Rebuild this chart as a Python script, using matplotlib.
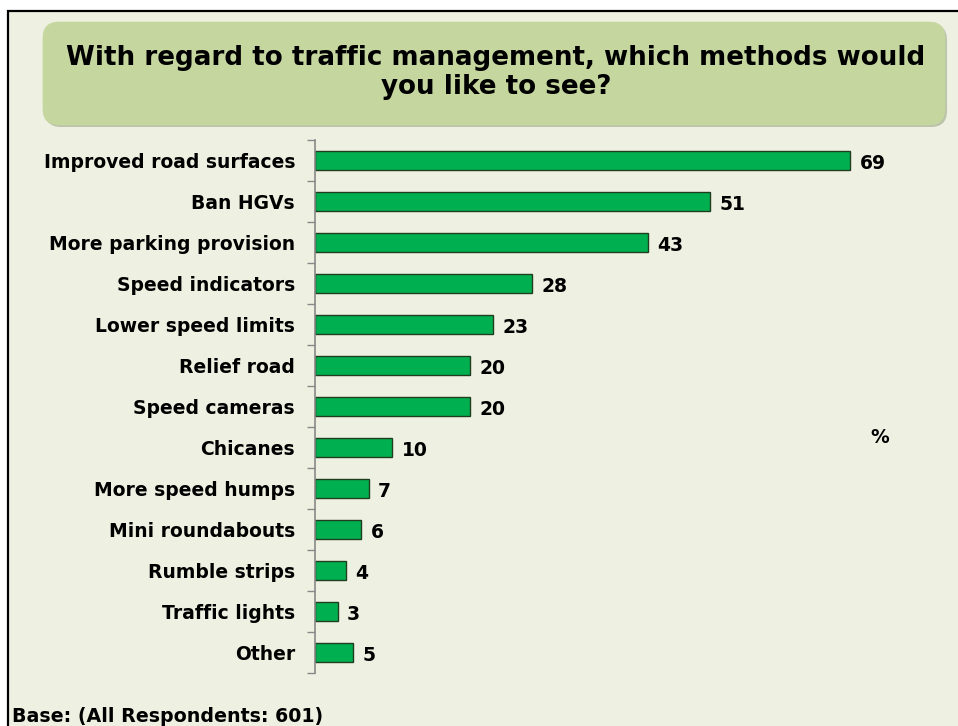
import matplotlib
matplotlib.use("Agg")
import matplotlib.pyplot as plt
from matplotlib.patches import FancyBboxPatch, Rectangle
import numpy as np

categories = ["Improved road surfaces", "Ban HGVs", "More parking provision",
              "Speed indicators", "Lower speed limits", "Relief road",
              "Speed cameras", "Chicanes", "More speed humps", "Mini roundabouts",
              "Rumble strips", "Traffic lights", "Other"]
values = [69, 51, 43, 28, 23, 20, 20, 10, 7, 6, 4, 3, 5]

title_text = "With regard to traffic management, which methods would\nyou like to see?"
base_text = "Base: (All Respondents: 601)"

W, H = 958, 726
fig = plt.figure(figsize=(W / 100, H / 100), dpi=100)
fig.patch.set_facecolor("white")

bg = "#eef1e1"
inch = fig.dpi_scale_trans

# outer frame
frame = Rectangle((0.08, -0.2), 10.0, 7.35, transform=inch,
                  facecolor=bg, edgecolor="black", linewidth=1.6, zorder=-3)
fig.patches.append(frame)

# title box shadow + box
shadow = FancyBboxPatch((0.45, 5.99), 9.02, 1.03,
                        boxstyle="round,pad=0,rounding_size=0.16",
                        transform=inch, facecolor="#9aa58a", edgecolor="none",
                        alpha=0.6, zorder=-2)
fig.patches.append(shadow)
box = FancyBboxPatch((0.43, 6.01), 9.02, 1.03,
                     boxstyle="round,pad=0,rounding_size=0.16",
                     transform=inch, facecolor="#c5d69f", edgecolor="#c5d69f",
                     linewidth=0.5, zorder=-1)
fig.patches.append(box)

fig.text(4.96, 7.26 - 0.725, title_text, transform=inch, ha="center", va="center",
         fontsize=18.8, fontweight="bold", family="DejaVu Sans", linespacing=1.15,
         zorder=3)

ax = fig.add_axes([314.5 / W, (H - 673) / H, 621 / W, 533 / H])
ax.set_zorder(5)
ax.set_facecolor("none")
y = np.arange(len(categories))
ax.barh(y, values, height=0.45, color="#00b050", edgecolor="#1f3d1f", linewidth=1.0)
ax.set_ylim(len(categories) - 0.5, -0.5)
ax.set_xlim(0, 80)

for yi, v in zip(y, values):
    ax.text(v + 1.2, yi + 0.08, str(v), ha="left", va="center",
            fontsize=13.5, fontweight="bold")

ax.set_yticks(y)
ax.set_yticklabels(categories, fontsize=13.5, fontweight="bold")
ax.tick_params(axis="y", which="major", length=0, pad=14)
ax.set_yticks(np.arange(len(categories) + 1) - 0.5, minor=True)
ax.tick_params(axis="y", which="minor", length=6, color="#888888", width=1)
ax.set_xticks([])
for s in ["top", "right", "bottom"]:
    ax.spines[s].set_visible(False)
ax.spines["left"].set_color("#888888")
ax.spines["left"].set_linewidth(1.2)

fig.text(8.80, 7.26 - 4.37, "%", transform=inch, ha="center", va="center",
         fontsize=13.5, fontweight="bold")
fig.text(0.12, 7.26 - 7.17, base_text, transform=inch, ha="left", va="center",
         fontsize=13.7, fontweight="bold")

fig.savefig("out.png", dpi=100, facecolor=fig.get_facecolor())
